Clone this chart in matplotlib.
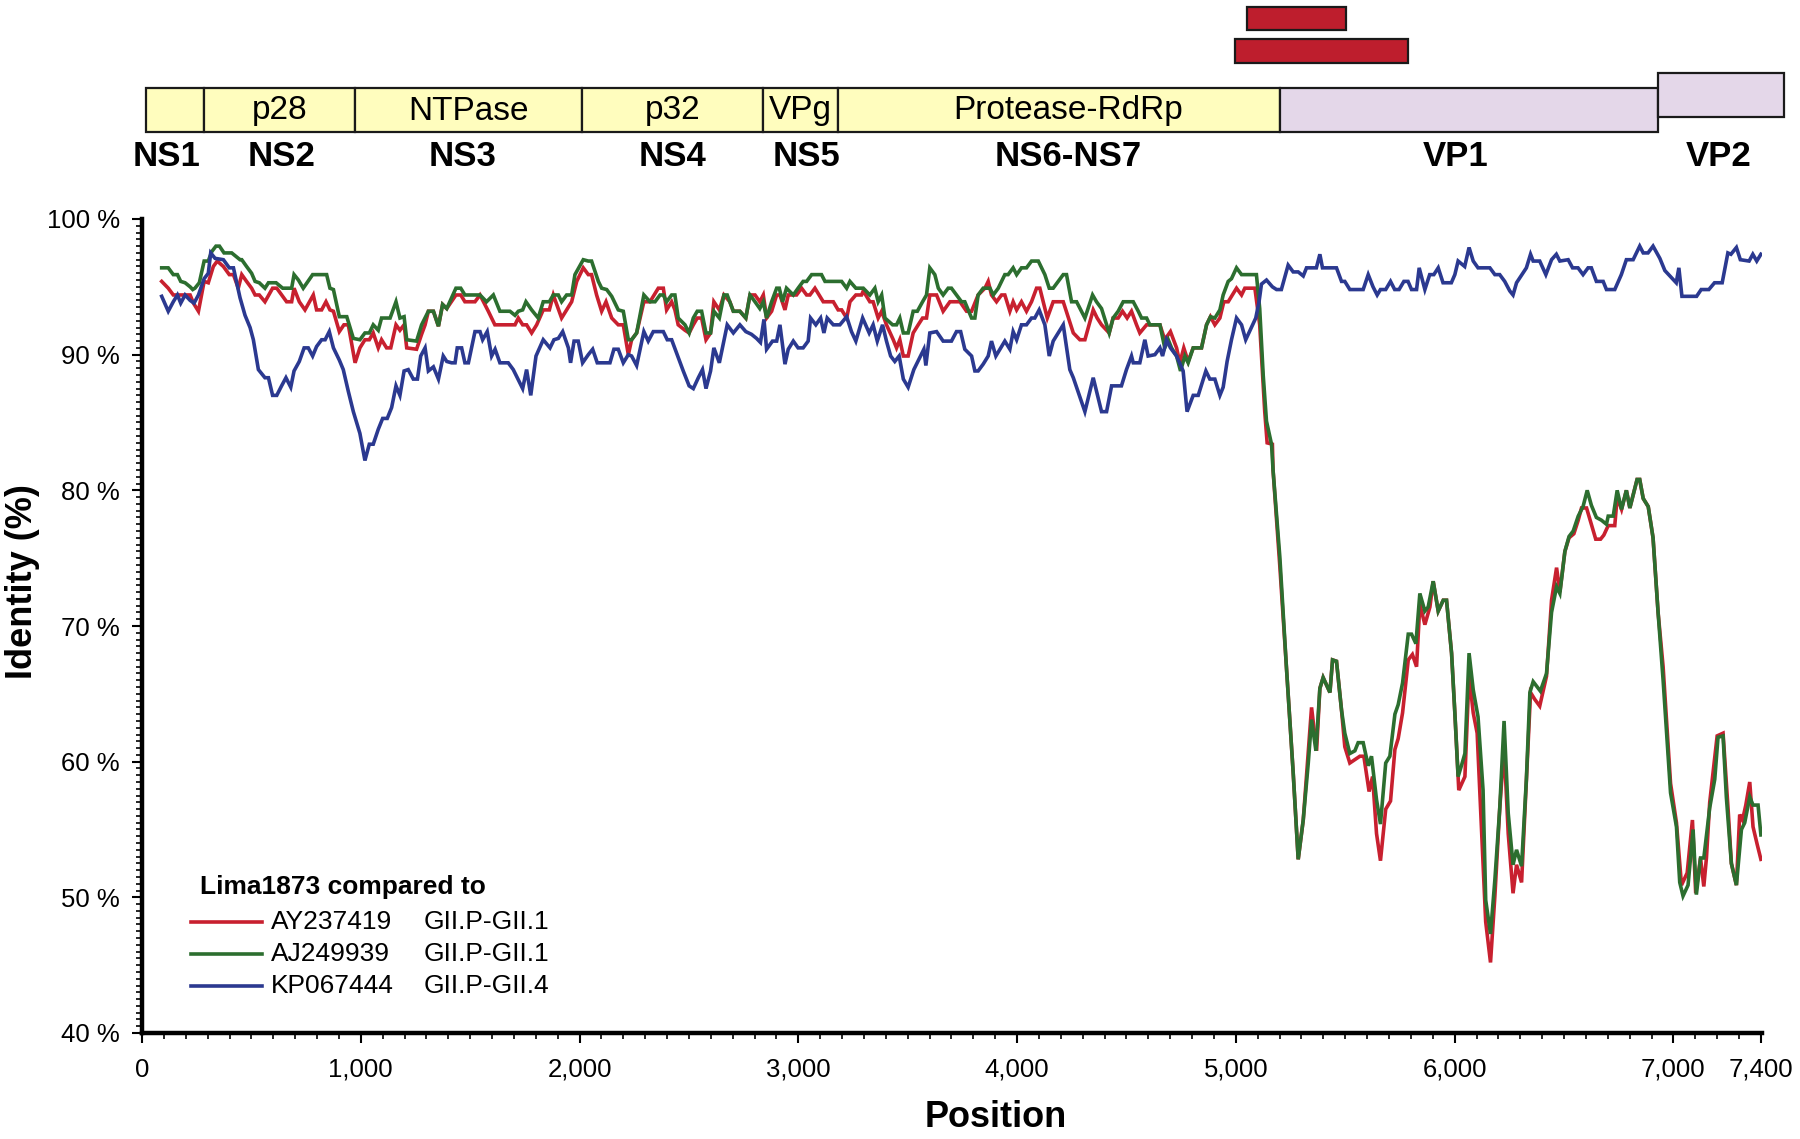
import matplotlib
matplotlib.use("Agg")
import matplotlib.pyplot as plt
from matplotlib.patches import Rectangle
from matplotlib.ticker import MultipleLocator

plt.rcParams['font.family'] = ['Liberation Sans', 'DejaVu Sans']

# ---------------- data ----------------
red_pts = [(90,95.4),(120,94.9),(143,94.4),(177,94.4),(197,94.4),(220,94.4),(235,93.8),(258,93.2),(284,95.4),(303,95.3),(326,96.5),(344,96.9),(372,96.5),(399,95.9),(418,95.9),(440,94.9),(456,95.9),(478,95.4),(501,94.9),(517,94.4),(536,94.4),(562,93.9),(597,94.9),(616,94.9),(661,93.9),(684,93.9),(695,94.9),(719,93.9),(745,93.3),(783,94.4),(798,93.3),(821,93.3),(841,93.9),(859,93.3),(875,93.2),(902,91.7),(923,92.2),(943,92.2),(974,89.4),(996,90.5),(1019,91.1),(1039,91.1),(1057,91.6),(1080,90.5),(1095,91.1),(1118,90.5),(1137,90.5),(1161,92.2),(1179,91.8),(1198,92.2),(1210,90.5),(1255,90.4),(1278,91.5),(1294,92.2),(1309,93.2),(1332,93.2),(1355,92.1),(1374,93.7),(1393,93.4),(1435,94.4),(1457,94.4),(1476,93.9),(1522,93.9),(1545,94.4),(1583,93.2),(1613,92.2),(1705,92.2),(1720,92.7),(1740,92.2),(1758,92.2),(1781,91.6),(1804,92.2),(1834,93.3),(1862,93.3),(1880,94.4),(1918,92.7),(1941,93.3),(1964,93.9),(1987,95.4),(2017,96.4),(2040,95.9),(2055,95.9),(2078,94.4),(2101,93.2),(2121,93.9),(2147,92.7),(2177,92.2),(2200,92.2),(2223,90.0),(2238,91.1),(2261,91.6),(2294,93.9),(2322,93.9),(2360,94.9),
(2383,94.9),(2398,93.3),(2421,93.9),(2436,93.3),(2451,92.2),(2482,91.8),(2501,91.6),(2520,92.2),(2538,92.7),(2558,92.7),(2578,91.1),(2599,91.6),(2614,93.9),(2639,93.3),(2660,94.4),(2687,93.9),(2703,93.2),(2733,93.2),(2760,92.7),(2779,94.4),(2802,94.4),(2824,93.9),(2840,94.4),(2855,92.7),(2878,93.2),(2901,94.4),(2916,94.4),(2939,93.3),(2954,94.4),(2992,94.4),(3015,94.9),(3038,94.4),(3053,94.4),(3076,94.9),(3114,93.9),(3160,93.9),(3182,93.3),(3198,93.3),(3221,92.7),(3236,93.9),(3263,94.4),(3289,94.4),(3297,94.7),(3327,93.9),(3342,93.9),(3365,92.7),(3381,93.2),(3403,92.2),(3434,91.1),(3449,90.5),(3464,91.1),(3480,89.9),(3502,89.9),(3525,91.6),(3548,92.2),(3568,92.7),(3586,92.7),(3601,94.4),(3632,94.4),(3662,93.2),(3693,93.9),(3739,93.9),(3769,93.2),(3792,93.2),(3822,94.4),(3853,94.9),(3868,95.4),(3883,94.4),(3906,93.9),(3929,94.4),(3944,94.4),(3967,93.2),(3982,93.9),(3998,93.3),(4020,93.9),(4043,93.2),(4066,93.9),(4089,94.9),(4104,94.9),(4138,92.7),(4165,93.9),(4211,93.9),(4257,91.6),(4287,91.1),(4310,91.1),(4348,93.3),(4366,92.7),(4386,92.2),(4421,91.6),(4439,92.7),(4462,92.7),(4482,93.2),(4503,92.7),(4523,93.2),(4546,92.2),(4561,91.6),(4592,92.2),(4630,92.2),(4653,92.2),
(4675,91.1),(4701,91.7),(4729,90.5),(4744,89.4),(4762,90.5),(4782,89.5),(4805,90.5),(4843,90.5),(4866,92.2),(4884,92.8),(4904,92.2),(4927,92.7),(4945,93.9),(4965,93.9),(5003,94.9),(5026,94.4),(5041,94.9),(5087,94.9),(5109,92.2),(5132,85.8),(5143,83.5),(5167,83.4),(5170,81.5),
(5201,74.4),(5231,67.0),(5262,59.2),(5285,52.8),(5308,55.7),(5346,64.0),(5369,60.8),(5384,65.4),(5399,66.2),(5430,65.1),(5442,67.5),(5460,67.4),(5483,63.8),(5498,61.1),(5521,59.9),(5567,60.4),(5585,60.4),(5609,57.8),(5625,58.9),(5643,54.7),(5661,52.7),(5685,56.5),(5707,57.1),(5727,60.9),(5742,61.7),(5762,63.6),(5788,67.5),(5807,67.9),(5826,67.0),(5841,71.6),(5864,70.1),(5887,71.4),(5902,73.3),(5925,71.1),(5948,71.9),(5963,71.9),(5986,68.0),(6001,63.6),(6019,57.9),(6047,58.9),(6066,66.4),(6085,63.6),(6103,62.1),(6123,55.0),(6142,48.2),(6164,45.2),(6184,50.1),(6206,56.5),(6226,61.1),(6245,54.7),(6267,50.3),(6283,52.4),(6306,51.1),(6328,58.7),(6347,65.1),(6366,64.6),(6389,64.1),(6420,66.3),(6443,71.9),(6466,74.3),(6481,72.5),(6504,75.5),(6523,76.5),(6545,76.8),(6565,77.8),(6580,78.7),(6603,78.7),(6625,77.5),(6645,76.4),(6667,76.4),(6682,76.7),(6702,77.4),(6732,77.4),(6743,79.5),(6763,78.6),(6785,80.0),(6801,78.7),(6834,80.8),(6846,80.8),(6862,79.4),(6885,78.8),(6907,76.5),(6930,71.0),(6953,67.0),(6987,58.4),(7014,55.5),(7037,50.9),(7063,51.8),(7087,55.7),(7102,50.3),(7124,52.9),(7139,50.8),(7151,52.9),(7166,57.0),(7200,61.9),(7227,62.1),(7250,56.5),(7265,52.5),(7288,50.9),(7303,56.1),(7316,55.7),(7331,56.8),(7349,58.5),(7364,55.2),(7383,53.9),(7400,52.8)]

green_pts = [(90,96.4),(120,96.4),(143,95.9),(162,95.9),(177,95.4),(197,95.3),(220,95.0),(232,94.8),(242,94.9),(262,95.3),(284,96.9),(303,96.9),(319,97.6),(338,98.0),(354,98.0),(375,97.5),(410,97.5),(433,97.2),(448,97.0),(456,97.0),(478,96.5),(501,96.0),(517,95.4),(536,95.3),(562,94.9),(578,95.3),(613,95.3),(643,94.9),(684,94.9),(695,95.9),(715,95.5),(737,94.9),(780,95.9),(844,95.9),(859,94.9),(875,94.8),(902,92.8),(936,92.8),(966,91.2),(996,91.1),(1019,91.6),(1039,91.6),(1057,92.2),(1080,91.8),(1095,92.7),(1134,92.7),(1161,93.9),(1179,92.7),(1198,92.8),(1210,91.1),(1255,91.0),(1278,92.2),(1309,93.2),(1332,93.2),(1355,92.1),(1374,93.7),(1393,93.4),(1435,94.9),(1457,94.9),(1476,94.4),(1545,94.4),(1575,93.9),(1606,94.4),(1636,93.2),(1682,93.2),(1705,92.9),(1720,93.2),(1740,93.3),(1755,93.9),(1781,93.3),(1811,92.7),(1834,93.9),(1862,93.9),(1880,94.4),(1903,94.4),(1918,93.9),(1941,94.4),(1964,94.4),(1979,95.9),(2017,97.0),(2040,96.9),(2055,96.9),(2086,95.4),(2101,94.9),(2124,94.8),(2147,94.3),(2177,93.3),(2200,93.2),(2223,91.1),(2238,91.1),(2261,91.6),(2294,94.4),(2322,93.9),(2345,93.9),(2368,94.4),
(2383,94.4),(2398,93.9),(2421,94.4),(2436,94.4),(2451,92.7),(2482,92.2),(2501,91.6),(2520,92.7),(2538,93.2),(2558,93.2),(2578,91.6),(2599,91.6),(2614,93.2),(2639,92.7),(2660,94.4),(2675,94.4),(2703,93.2),(2733,93.2),(2760,92.7),(2779,94.4),(2802,93.9),(2824,93.4),(2840,93.9),(2855,92.7),(2878,93.9),(2901,94.9),(2913,94.9),(2928,93.9),(2946,94.9),(2977,94.4),(2999,94.9),(3022,95.4),(3038,95.4),(3061,95.9),(3106,95.9),(3122,95.4),(3198,95.4),(3221,94.9),(3236,95.4),(3263,94.9),(3297,94.9),(3327,94.4),(3350,94.9),(3365,93.9),(3381,94.4),(3396,92.7),(3431,92.2),(3449,92.2),(3464,92.7),(3480,91.6),(3502,91.6),(3525,93.2),(3544,93.2),(3568,93.9),(3586,94.4),(3601,96.4),(3624,95.9),(3640,94.9),(3662,94.4),(3685,94.9),(3700,94.9),(3723,94.4),(3746,93.9),(3761,93.9),(3792,92.7),(3807,92.7),(3822,94.4),(3845,94.9),(3876,94.9),(3891,94.4),(3914,94.9),(3944,95.9),(3959,95.9),(3982,96.4),(3998,95.9),(4020,96.4),(4043,96.4),(4066,96.9),(4097,96.9),(4127,95.9),(4147,94.9),(4165,94.9),(4211,95.9),(4226,95.9),(4249,93.9),(4272,93.9),(4310,92.7),(4345,94.4),(4363,93.9),(4386,93.4),(4421,91.6),(4439,92.7),(4462,93.2),(4485,93.9),(4531,93.9),(4554,93.2),(4569,92.7),(4592,92.7),(4607,92.2),(4653,92.2),
(4675,90.5),(4691,91.1),(4706,90.5),(4729,89.9),(4747,88.8),(4767,89.9),(4782,89.4),(4805,90.5),(4843,90.5),(4866,92.2),(4884,92.8),(4904,92.7),(4927,93.3),(4942,94.4),(4965,95.4),(4980,95.6),(5003,96.4),(5026,95.9),(5094,95.9),(5109,93.4),(5125,88.5),(5140,85.1),(5163,83.4),(5170,81.5),
(5201,75.1),(5231,67.0),(5262,59.2),(5285,52.8),(5308,55.7),(5331,59.9),(5346,63.1),(5366,60.8),(5384,65.4),(5399,66.2),(5430,65.1),(5442,67.5),(5460,67.4),(5483,63.8),(5498,62.1),(5521,60.6),(5544,60.8),(5559,61.4),(5582,61.4),(5605,59.7),(5620,60.4),(5643,57.2),(5661,55.4),(5685,59.9),(5704,60.4),(5727,63.5),(5742,64.2),(5762,65.8),(5788,69.4),(5803,69.4),(5823,68.7),(5841,72.4),(5864,71.1),(5879,71.4),(5902,73.3),(5925,71.1),(5948,71.9),(5963,71.9),(5986,68.0),(6001,63.6),(6016,58.9),(6031,59.7),(6047,60.6),(6066,68.0),(6085,65.3),(6107,63.3),(6130,57.9),(6142,49.8),(6164,47.3),(6184,51.3),(6206,56.5),(6226,63.0),(6245,56.2),(6267,52.4),(6283,53.5),(6306,52.3),(6328,58.7),(6344,65.1),(6359,65.9),(6392,65.2),(6420,66.5),(6443,71.0),(6466,72.9),(6481,72.4),(6504,75.5),(6523,76.6),(6542,77.0),(6565,78.1),(6587,78.8),(6606,80.0),(6625,78.9),(6648,78.0),(6671,77.8),(6694,77.5),(6702,78.1),(6725,78.1),(6743,80.0),(6763,78.6),(6785,80.0),(6801,78.7),(6834,80.8),(6846,80.8),(6862,79.4),(6885,78.8),(6907,76.5),(6930,71.0),(6953,66.0),(6987,57.7),(7014,55.2),(7029,51.1),(7044,50.1),(7067,50.9),(7090,55.0),(7105,50.2),(7124,52.9),(7139,52.9),(7166,56.6),(7189,58.7),(7204,61.8),(7227,61.9),(7242,57.4),(7265,52.5),(7288,50.9),(7311,55.0),(7326,55.5),(7349,57.4),(7364,56.8),(7387,56.8),(7400,54.6)]

blue_pts = [(90,94.3),(120,93.2),(143,93.9),(162,94.4),(177,93.8),(197,94.4),(220,94.0),(238,93.8),(258,94.4),(284,95.6),(303,96.0),(314,97.5),(334,97.1),(372,97.0),(399,96.4),(418,96.4),(433,95.3),(448,94.2),(471,92.9),(494,92.0),(509,91.1),(532,88.9),(562,88.3),(578,88.3),(597,87.0),(616,87.0),(638,87.7),(658,88.3),(680,87.6),(695,88.8),(719,89.5),(741,90.5),(760,90.5),(780,89.9),(798,90.6),(821,91.1),(837,91.1),(856,91.7),(875,90.5),(902,89.6),(920,88.9),(943,87.3),(966,85.8),(996,84.2),(1019,82.2),(1039,83.4),(1057,83.4),(1080,84.5),(1100,85.3),(1121,85.3),(1141,86.1),(1161,87.7),(1179,87.0),(1198,88.8),(1217,88.9),(1240,88.2),(1259,88.2),(1274,89.9),(1294,90.5),(1309,88.8),(1332,89.1),(1355,88.2),(1377,89.9),(1393,89.5),(1415,89.4),(1431,89.4),(1441,90.5),(1461,90.5),(1476,89.4),(1492,89.4),(1522,91.7),(1545,91.7),(1557,91.1),(1578,91.7),(1598,89.9),(1614,90.4),(1636,89.4),(1674,89.4),(1697,88.9),(1740,87.5),(1758,88.9),(1777,87.0),(1801,89.9),(1834,91.1),(1865,90.5),(1883,91.1),(1903,91.2),(1923,91.7),(1949,90.5),(1959,89.4),(1975,91.0),(1994,91.0),(2014,89.4),(2040,90.0),(2060,90.4),(2081,89.4),(2139,89.4),(2157,90.4),(2177,90.4),(2200,89.4),(2223,90.0),(2238,89.9),(2261,89.2),(2294,91.7),(2314,91.0),(2337,91.7),(2368,91.7),
(2383,91.7),(2401,91.1),(2421,91.1),(2444,90.1),(2474,88.8),(2501,87.7),(2520,87.5),(2543,88.3),(2562,88.9),(2578,87.5),(2599,88.8),(2614,90.5),(2639,89.4),(2675,92.2),(2703,91.6),(2733,92.2),(2760,91.7),(2786,91.5),(2809,91.2),(2827,90.9),(2843,92.6),(2855,90.4),(2882,91.0),(2901,91.0),(2916,92.2),(2939,89.3),(2954,90.4),(2977,91.0),(2999,90.5),(3022,90.5),(3045,91.0),(3056,92.7),(3080,92.2),(3102,92.7),(3117,91.6),(3132,92.7),(3160,92.2),(3190,92.2),(3221,92.8),(3243,91.7),(3263,91.0),(3294,92.7),(3324,91.6),(3342,92.2),(3361,91.0),(3385,92.2),(3403,91.0),(3422,89.9),(3441,89.5),(3461,89.9),(3480,88.2),(3502,87.6),(3528,88.9),(3574,90.4),(3583,89.2),(3601,91.6),(3632,91.7),(3662,91.0),(3700,91.0),(3723,91.7),(3742,91.7),(3761,90.4),(3792,89.9),(3807,88.8),(3822,88.8),(3845,89.3),(3868,89.9),(3883,91.0),(3903,89.9),(3944,91.0),(3967,90.4),(3982,91.7),(3998,91.1),(4020,92.2),(4043,92.2),(4066,92.7),(4081,92.7),(4101,93.3),(4127,92.2),(4147,89.9),(4165,91.0),(4211,92.2),(4241,88.9),(4257,88.3),(4310,85.8),(4348,88.3),(4386,85.8),(4409,85.8),(4432,87.7),(4477,87.7),(4500,88.9),(4523,89.9),(4531,89.4),(4561,89.4),(4584,91.1),(4599,89.9),(4630,90.0),(4653,90.5),
(4665,89.9),(4683,91.1),(4701,90.5),(4729,89.9),(4759,88.8),(4777,85.8),(4805,87.0),(4828,87.0),(4863,88.8),(4881,88.2),(4904,88.2),(4927,87.0),(4942,87.6),(4960,89.5),(4980,91.1),(5003,92.7),(5026,92.2),(5045,91.1),(5071,92.0),(5091,92.7),(5106,93.9),(5117,95.2),(5140,95.5),(5167,95.0),(5186,94.8),(5208,94.8),(5239,96.6),(5262,96.1),(5285,96.1),(5308,95.8),(5323,96.4),(5368,96.4),(5384,97.4),(5396,96.4),(5460,96.4),(5483,95.4),(5498,95.4),(5521,94.8),(5582,94.8),(5605,95.9),(5627,95.0),(5646,94.4),(5661,94.8),(5685,94.8),(5707,95.4),(5726,94.8),(5746,94.8),(5768,95.4),(5787,95.4),(5803,94.8),(5826,94.8),(5838,96.4),(5864,94.8),(5886,95.9),(5905,95.9),(5925,96.4),(5947,95.3),(5985,95.3),(6001,95.9),(6016,96.9),(6046,96.5),(6066,97.9),(6085,96.9),(6107,96.4),(6161,96.4),(6184,95.9),(6206,95.9),(6229,95.4),(6252,94.7),(6267,94.4),(6283,95.3),(6328,96.4),(6347,97.4),(6359,96.9),(6389,96.9),(6417,95.9),(6443,97.0),(6465,97.4),(6481,96.9),(6519,97.0),(6539,96.4),(6564,96.4),(6587,95.9),(6610,96.4),(6625,96.4),(6648,95.4),(6679,95.4),(6694,94.8),(6732,94.8),(6762,95.9),(6785,97.0),(6816,97.0),(6846,98.0),(6862,97.5),(6884,97.5),(6907,98.0),(6938,97.1),
(6961,96.2),(7013,95.3),(7025,96.4),(7039,94.3),(7106,94.3),(7127,94.8),(7162,94.8),(7188,95.3),(7223,95.3),(7249,97.5),(7263,97.4),(7288,97.9),(7306,97.0),(7346,96.9),(7363,97.4),(7381,96.9),(7400,97.4)]

series_ids = ['AY237419', 'AJ249939', 'KP067444']
series_types = ['GII.P-GII.1', 'GII.P-GII.1', 'GII.P-GII.4']
series_colors = ['#C8202F', '#2C6E2F', '#2B3990']

x_ticks = [0, 1000, 2000, 3000, 4000, 5000, 6000, 7000, 7400]
y_ticks = [40, 50, 60, 70, 80, 90, 100]

# genome map
seg_names = ['NS1', 'NS2', 'NS3', 'NS4', 'NS5', 'NS6-NS7', 'VP1', 'VP2']
seg_products = ['', 'p28', 'NTPase', 'p32', 'VPg', 'Protease-RdRp', '', '']
seg_start = [18, 283, 973, 2011, 2838, 3181, 5201, 6929]
seg_end = [283, 973, 2011, 2838, 3181, 5201, 6929, 7505]
seg_label_pos = [112, 636, 1467, 2426, 3037, 4232, 6005, 7207]
seg_kind = ['ns', 'ns', 'ns', 'ns', 'ns', 'ns', 'vp', 'vp2']
recomb_start = [5050, 4995]
recomb_end = [5503, 5786]

# ---------------- figure ----------------
W, H = 1800, 1139
fig = plt.figure(figsize=(W / 100, H / 100), dpi=100)

ax_left, ax_right = 142 / W, 1762 / W
ax_bottom, ax_top = 1 - 1033 / H, 1 - 219 / H
ax = fig.add_axes([ax_left, ax_bottom, ax_right - ax_left, ax_top - ax_bottom])

for pts, c in zip([red_pts, green_pts, blue_pts], series_colors):
    xs, ys = zip(*pts)
    ax.plot(xs, ys, color=c, lw=2.6, solid_joinstyle='miter')

ax.set_xlim(0, 7405)
ax.set_ylim(40, 100)
for s in ['top', 'right']:
    ax.spines[s].set_visible(False)
for s in ['left', 'bottom']:
    ax.spines[s].set_linewidth(3.2)

ax.set_xticks(x_ticks)
ax.set_xticklabels([f"{v:,}" for v in x_ticks])
ax.set_yticks(y_ticks)
ax.set_yticklabels([f"{v} %" for v in y_ticks])
ax.xaxis.set_minor_locator(MultipleLocator(100))
ax.yaxis.set_minor_locator(MultipleLocator(0.5))
ax.tick_params(axis='both', which='major', direction='out', length=7, width=1.5,
               labelsize=18.5, colors='black')
ax.tick_params(axis='both', which='minor', direction='out', length=4, width=1.2)
ax.tick_params(axis='y', which='major', pad=9)
ax.tick_params(axis='x', which='major', pad=11)

ax.set_xlabel('Position', fontsize=26, fontweight='bold')
ax.xaxis.set_label_coords(0.527, -0.104)
ax.xaxis.label.set_verticalalignment('center')
ax.set_ylabel('Identity (%)', fontsize=26, fontweight='bold')
ax.yaxis.set_label_coords(-0.0735, 0.554)
ax.yaxis.label.set_verticalalignment('center')

# legend (manual)
def ax_x(px):
    return (px - 142) / 1620.0

def ax_y(py):
    return (1033 - py) / 814.0

ax.text(ax_x(200), ax_y(887), 'Lima1873 compared to', transform=ax.transAxes,
        fontsize=19, fontweight='bold', ha='left', va='center')
for i, (sid, st, c) in enumerate(zip(series_ids, series_types, series_colors)):
    yy = ax_y(922 + 32 * i)
    ax.plot([ax_x(191), ax_x(262)], [yy, yy], transform=ax.transAxes, color=c, lw=2.6,
            clip_on=False)
    ax.text(ax_x(271), yy, sid, transform=ax.transAxes, fontsize=19, ha='left', va='center')
    ax.text(ax_x(424), yy, st, transform=ax.transAxes, fontsize=19, ha='left', va='center')

# ---------------- genome map ----------------
gh = 175
axg = fig.add_axes([ax_left, 1 - gh / H, ax_right - ax_left, gh / H])
axg.set_xlim(0, 7405)
axg.set_ylim(gh, 0)
axg.axis('off')

fills = {'ns': '#FFFDBE', 'vp': '#E4D7E9', 'vp2': '#E4D7E9'}
rows = {'ns': (88, 44), 'vp': (88, 44), 'vp2': (73, 44)}
for name, prod, s, e, lp, k in zip(seg_names, seg_products, seg_start, seg_end,
                                    seg_label_pos, seg_kind):
    y0, h = rows[k]
    axg.add_patch(Rectangle((s, y0), e - s, h, facecolor=fills[k], edgecolor='#1a1a1a',
                            lw=1.6, clip_on=False))
    if prod:
        px = (s + e) / 2 if prod != 'Protease-RdRp' else lp
        axg.text(px, y0 + h / 2 + 1, prod, fontsize=24, ha='center', va='center',
                 clip_on=False)
    axg.text(lp, 157, name, fontsize=25, fontweight='bold', ha='center', va='center',
             clip_on=False)

for (s, e), (y0, h) in zip(zip(recomb_start, recomb_end), [(7, 23), (39, 24)]):
    axg.add_patch(Rectangle((s, y0), e - s, h, facecolor='#BE1E2D', edgecolor='#1a1a1a',
                            lw=1.6, clip_on=False))

fig.savefig('out.png', dpi=100)
